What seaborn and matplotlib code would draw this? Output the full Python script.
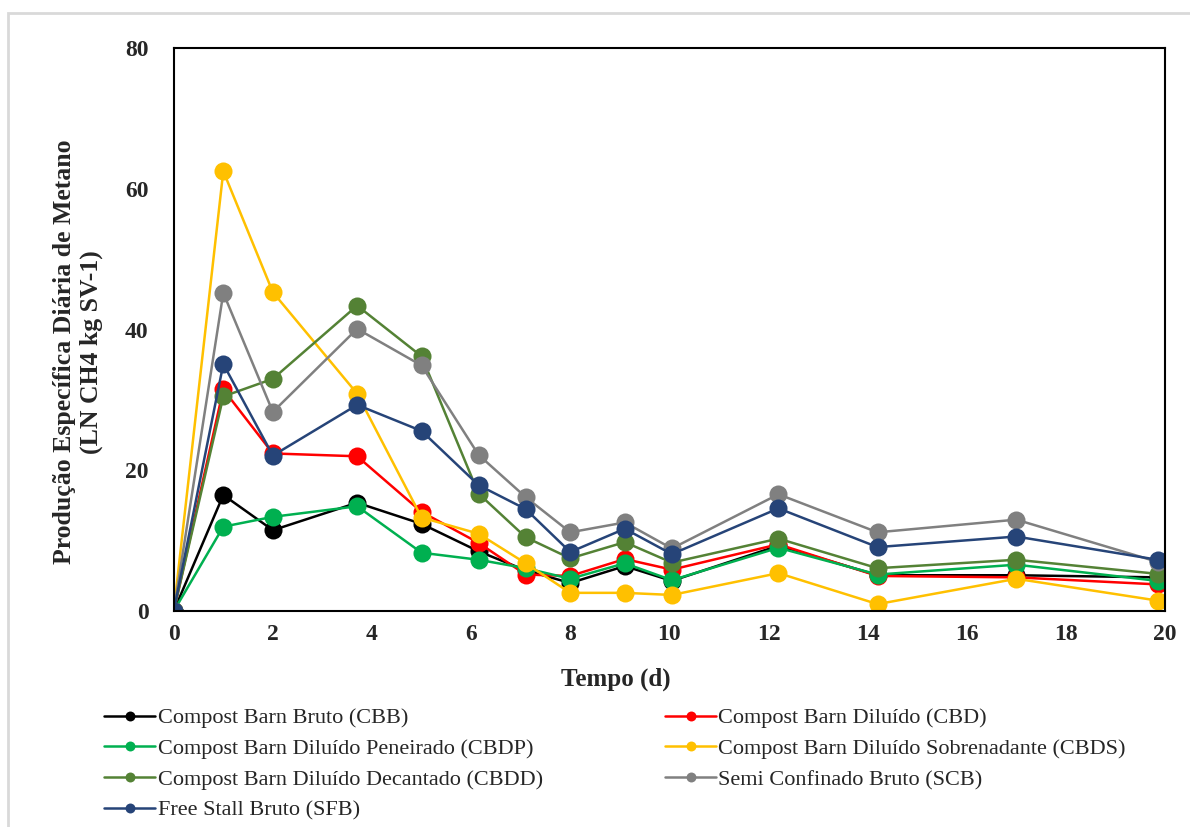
import pandas as pd
import matplotlib.pyplot as plt
import seaborn as sns
from matplotlib.patches import Rectangle

# Tempo (d) and daily specific methane production per substrate
tempo = [0, 1.0, 2.0, 3.7, 5.0, 6.15, 7.1, 8.0, 9.1, 10.05, 12.2, 14.2, 17.0, 19.85]
cbb = [0, 16.5, 11.5, 15.4, 12.4, 8.5, 5.8, 4.0, 6.4, 4.3, 9.3, 5.1, 5.1, 4.8]
cbd = [0, 31.5, 22.4, 22.0, 14.1, 9.7, 5.2, 5.0, 7.4, 5.9, 9.5, 5.0, 4.8, 3.8]
cbdp = [0, 12.0, 13.4, 14.9, 8.3, 7.3, 6.1, 4.6, 6.8, 4.4, 9.0, 5.2, 6.6, 4.3]
cbds = [0, 62.5, 45.3, 30.9, 13.3, 11.0, 6.8, 2.6, 2.6, 2.3, 5.4, 1.0, 4.6, 1.5]
cbdd = [0, 30.5, 33.0, 43.4, 36.2, 16.7, 10.5, 7.5, 9.8, 6.9, 10.3, 6.1, 7.3, 5.3]
scb = [0, 45.2, 28.3, 40.1, 34.9, 22.2, 16.2, 11.2, 12.6, 8.9, 16.6, 11.2, 13.0, 7.0]
sfb = [0, 35.1, 22.1, 29.3, 25.6, 17.9, 14.5, 8.4, 11.7, 8.1, 14.6, 9.1, 10.6, 7.3]

series = [
    ("Compost Barn Bruto (CBB)", cbb, "#000000"),
    ("Compost Barn Diluído (CBD)", cbd, "#FF0000"),
    ("Compost Barn Diluído Peneirado (CBDP)", cbdp, "#00B050"),
    ("Compost Barn Diluído Sobrenadante (CBDS)", cbds, "#FFC000"),
    ("Compost Barn Diluído Decantado (CBDD)", cbdd, "#548235"),
    ("Semi Confinado Bruto (SCB)", scb, "#808080"),
    ("Free Stall Bruto (SFB)", sfb, "#264478"),
]

sns.set_style("white")
plt.rcParams['font.family'] = ['Liberation Serif', 'DejaVu Serif']

fig = plt.figure(figsize=(11.9, 8.27), dpi=100)
ax = fig.add_axes([0.146, 0.261, 0.833, 0.681])

for name, vals, col in series:
    df = pd.DataFrame({"Tempo": tempo, "CH4": vals})
    sns.lineplot(data=df, x="Tempo", y="CH4", ax=ax, color=col, marker="o",
                 markersize=13, markeredgewidth=0, linewidth=1.8, sort=False,
                 label=name)

ax.set_xlim(0, 20)
ax.set_ylim(0, 80)
ax.set_xticks(range(0, 21, 2))
ax.set_yticks(range(0, 81, 20))
for lab in ax.get_xticklabels() + ax.get_yticklabels():
    lab.set_fontweight("bold")
ax.tick_params(axis="x", direction="inout", length=10, width=1.5, labelsize=17, pad=4)
ax.tick_params(axis="y", direction="in", length=7, width=1.5, labelsize=17, pad=18)
ax.tick_params(top=False, right=False)
for sp in ax.spines.values():
    sp.set_linewidth(1.5)
    sp.set_color("black")

ax.set_xlabel("Tempo (d)", fontsize=18, fontweight="bold")
ax.set_ylabel("Produção Específica Diária de Metano\n(LN CH4 kg SV-1)",
              fontsize=18.5, fontweight="bold")
ax.xaxis.set_label_coords(0.446, -0.100)
ax.yaxis.set_label_coords(-0.071, 0.46)

handles, labels = ax.get_legend_handles_labels()
order = [0, 2, 4, 6, 1, 3, 5]
ax.legend([handles[i] for i in order], [labels[i] for i in order],
          ncol=2, loc="upper left", bbox_to_anchor=(-0.079, -0.156),
          frameon=False, fontsize=16, markerscale=0.55, handlelength=2.3,
          handletextpad=0.1, columnspacing=5.5, labelspacing=0.46,
          borderaxespad=0)

fig.patches.append(Rectangle((8 / 1190, -0.02), 1.0, 1 - 13 / 827 + 0.02,
                             transform=fig.transFigure, fill=False,
                             edgecolor="#d9d9d9", linewidth=2))

plt.savefig("out.png", dpi=100)
